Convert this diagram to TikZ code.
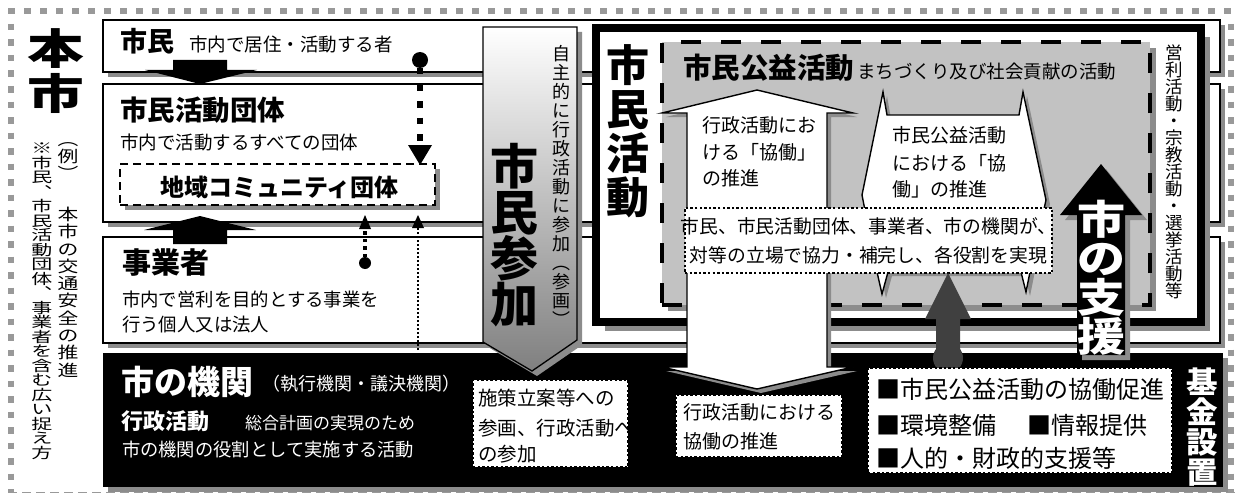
\documentclass[tikz,border=0pt]{standalone}
\usepackage{fontspec}
\setmainfont{Noto Sans CJK JP}[BoldFont={Noto Sans CJK JP Black}]
\usepackage{graphicx}
\definecolor{shd}{gray}{0.55}
\definecolor{boxgray}{gray}{0.76}
\definecolor{dotgray}{gray}{0.6}
\definecolor{darkarrow}{gray}{0.25}
\definecolor{arrbot}{gray}{0.5}
\newcommand\fsz[1]{\fontsize{#1}{#1}\selectfont}
\makeatletter
\newcommand\tate[4]{%
  \vbox{\fontsize{#1}{#2}\selectfont
    \baselineskip=#2pt\relax
    \lineskiplimit=-1000pt\relax
    \lineskip=0pt\relax
    \@tfor\tate@c:=#4\do{\hbox to #1pt{\hss\scalebox{#3}[1]{\tate@c}\hss}}}}
\makeatother
\tikzset{
  every node/.style={inner sep=0pt, outer sep=0pt},
  shadow/.style={preaction={fill=shd, transform canvas={xshift=#1, yshift=-#1}}},
  shadow/.default=5pt,
  layerbox/.style={anchor=north west, draw=black, fill=white, line width=1.8pt, shadow},
  dotbox/.style={anchor=north west, draw=black, fill=white, line width=2.4pt, dash pattern=on 2.4pt off 2.2pt},
  lbl/.style={anchor=base west},
}
\begin{document}
\begin{tikzpicture}[x=1pt,y=-1pt]
\useasboundingbox (0,0) rectangle (1237,495);
\fill[white] (0,0) rectangle (1237,495);
% outer border
\draw[dotgray, line width=6.5pt, dash pattern=on 6.5pt off 9.5pt] (8,11) -- (1236,11);
\draw[dotgray, line width=6.5pt, dash pattern=on 6.5pt off 9pt] (11,24) -- (11,492);
\draw[dotgray, line width=6.5pt, dash pattern=on 6.5pt off 9pt] (1231,24) -- (1231,492);
\draw[dotgray, line width=1.5pt, dash pattern=on 9pt off 5pt] (8,492.5) -- (1236,492.5);

% left column texts
\node[anchor=north, font=\bfseries] (tHonshi) at (56,29) {\tate{42}{45}{1.35}{本市}};
\node[anchor=north] (tNote) at (42,143) {\tate{14.5}{14.5}{1.45}{※市民︑市民活動団体︑事業者を含む広い捉え方}};
\node[anchor=north] (tEx1) at (68,143) {\tate{16}{17}{1.3}{︵例︶}};
\node[anchor=north] (tEx2) at (68,207) {\tate{16}{17.3}{1.3}{本市の交通安全の推進}};

% layer boxes
\node[layerbox, minimum width=1117pt, minimum height=52pt] (shimin) at (103,20) {};
\node[layerbox, minimum width=1117pt, minimum height=138pt] (dantai) at (103,84) {};
\node[layerbox, minimum width=1117pt, minimum height=106pt] (jigyo) at (103,237) {};
\node[anchor=north west, fill=black, shadow, minimum width=1120pt, minimum height=134pt] (kikan) at (103,353) {};

\node[lbl, font=\bfseries\fsz{27}] (tShimin) at (120,52) {市民};
\node[lbl, font=\fsz{18.5}] (tShiminD) at (189,52) {市内で居住・活動する者};
\node[lbl, font=\bfseries\fsz{27.5}] (tDantai) at (120,120) {市民活動団体};
\node[lbl, font=\fsz{18.5}] (tDantaiD) at (120,149.5) {市内で活動するすべての団体};
\node[lbl, font=\bfseries\fsz{29}] (tJigyo) at (122,273) {事業者};
\node[lbl, font=\fsz{18.4}] (tJigyoD1) at (122,306) {市内で営利を目的とする事業を};
\node[lbl, font=\fsz{18.4}] (tJigyoD2) at (122,331) {行う個人又は法人};

\node[lbl, font=\bfseries\fsz{33}, text=white] (tKikan) at (121,394) {市の機関};
\node[lbl, font=\fsz{18}, text=white] (tKikanD) at (262,390) {（執行機関・議決機関）};
\node[lbl, font=\bfseries\fsz{22}, text=white] (tGyosei) at (121,429) {行政活動};
\node[lbl, font=\fsz{17}, text=white] (tGyoseiD1) at (245,429.5) {総合計画の実現のため};
\node[lbl, font=\fsz{18.3}, text=white] (tGyoseiD2) at (122,456) {市の機関の役割として実施する活動};

% community box
\node[anchor=north west, draw=black, fill=white, line width=1.8pt, dash pattern=on 8pt off 5pt, shadow, minimum width=315pt, minimum height=41pt] (chiiki) at (120,164) {};
\node[lbl, font=\bfseries\fsz{24}] (tChiiki) at (160,196) {地域コミュニティ団体};

% block arrows between layers
\fill (173,60) -- (227,60) -- (227,70) -- (257,70) -- (200,84) -- (145,70) -- (173,70) -- cycle;
\fill (200,216) -- (256,230) -- (227,230) -- (227,244) -- (173,244) -- (173,230) -- (144,230) -- cycle;

% dotted arrows
\node[circle, fill=black, minimum size=16pt] (dotA) at (420,60) {};
\coordinate (baseA) at (420,145);
\coordinate (tipA) at (420,165);
\draw[line width=6.5pt, dash pattern=on 6.5pt off 10pt] (dotA.south) -- (baseA);
\fill (408,145) -- (432,145) -- (tipA) -- cycle;

\node[circle, fill=black, minimum size=12pt] (dotB) at (365,263) {};
\coordinate (baseB) at (365,229);
\coordinate (tipB) at (365,215);
\draw[line width=3.5pt, dash pattern=on 3.5pt off 4pt] (dotB.north) -- (baseB);
\fill (359,229) -- (371,229) -- (tipB) -- cycle;

\coordinate (startC) at (418,350);
\coordinate (baseC) at (418,228);
\coordinate (tipC) at (418,215);
\draw[line width=2pt, dash pattern=on 2pt off 2pt] (startC) -- (baseC);
\fill (412,228) -- (424,228) -- (tipC) -- cycle;

% citizen participation arrow
\path[shadow, top color=white, bottom color=arrbot, draw=black, line width=1.3pt] (483,27) -- (577,27) -- (577,340) -- (532,371) -- (483,342) -- cycle;
\node[anchor=north, font=\bfseries] (tSanka) at (514,143) {\tate{48}{46}{1.0}{市民参加}};
\node[anchor=north] (tJishu) at (561,45) {\tate{18}{19}{1.0}{自主的に行政活動に参加︵参画︶}};

% citizen activity box
\node[anchor=north west, draw=black, line width=8pt, fill=white, shadow=9pt, minimum width=605pt, minimum height=294pt] (katsudo) at (596,28) {};
\node[anchor=north, font=\bfseries] (tKatsudo) at (628,45) {\tate{43}{44}{1.0}{市民活動}};
\node[anchor=north] (tEiri) at (1174,45) {\tate{17.5}{17}{1.0}{営利活動・宗教活動・選挙活動等}};

% public interest box
\node[anchor=north west, fill=boxgray, draw=black, line width=4.5pt, dash pattern=on 20pt off 20pt, shadow=6pt, minimum width=488pt, minimum height=263pt] (koueki) at (662,42) {};
\node[lbl, font=\bfseries\fsz{28.5}] (tKoueki) at (683,78) {市民公益活動};
\node[lbl, font=\fsz{18.5}] (tKouekiD) at (857,78) {まちづくり及び社会貢献の活動};

% white double arrow
\path[shadow=4pt, fill=white, draw=black, line width=1.4pt] (757,90) -- (853,113) -- (827,113) -- (827,367) -- (853,367) -- (757,389) -- (662,367) -- (687,367) -- (687,113) -- (662,113) -- cycle;
\node[lbl, font=\fsz{19}] (tArrL1) at (702,132) {行政活動にお};
\node[lbl, font=\fsz{19}] (tArrL2) at (702,159) {ける「協働」};
\node[lbl, font=\fsz{19}] (tArrL3) at (702,185) {の推進};

% callout
\path[shadow=4pt, fill=white, draw=black, line width=1.4pt] (883,92) -- (887,115) -- (1019,115) -- (1023,92) -- (1046,200) -- (1030,272) -- (1026,292) -- (1021,272) -- (888,272) -- (882,294) -- (877,272) -- (862,195) -- cycle;
\node[lbl, font=\fsz{19}] (tCal1) at (892,142) {市民公益活動};
\node[lbl, font=\fsz{19}] (tCal2) at (892,170) {における「協};
\node[lbl, font=\fsz{19}] (tCal3) at (892,196) {働」の推進};

% dotted text box
\node[dotbox, minimum width=367pt, minimum height=65pt] (kyodo) at (685,208) {};
\node[anchor=base, font=\fsz{18.8}] (tKyo1) at (868.5,233) {市民、市民活動団体、事業者、市の機関が、};
\node[anchor=base, font=\fsz{18.8}] (tKyo2) at (868.5,262) {対等の立場で協力・補完し、各役割を実現};

% city support arrow
\path[shadow=5pt, fill=black] (1101,164) -- (1142,215) -- (1125,215) -- (1125,355) -- (1077,355) -- (1077,215) -- (1060,215) -- cycle;
\node[anchor=north, font=\bfseries, text=white] (tShien) at (1101,200) {\tate{40}{39}{1.2}{市の支援}};

% dark gray arrow
\node[circle, fill=darkarrow, minimum size=30pt] (dotD) at (948,358) {};
\path[fill=darkarrow] (948,273) -- (971,319) -- (960,319) -- (960,358) -- (936,358) -- (936,319) -- (925,319) -- cycle;

% boxes in the black area
\node[dotbox, minimum width=155pt, minimum height=87pt] (sesaku) at (473,380) {};
\node[lbl, font=\fsz{19.5}] (tSes1) at (478,405) {施策立案等への};
\node[lbl, font=\fsz{19.5}] (tSes2) at (478,435) {参画、行政活動へ};
\node[lbl, font=\fsz{19.5}] (tSes3) at (478,461) {の参加};

\node[dotbox, minimum width=166pt, minimum height=62pt] (gyokyo) at (676,395) {};
\node[lbl, font=\fsz{19}] (tGk1) at (683,419) {行政活動における};
\node[lbl, font=\fsz{19}] (tGk2) at (683,448) {協働の推進};

\node[dotbox, minimum width=304pt, minimum height=105pt] (shienbox) at (868,368) {};
\node[lbl, font=\fsz{24}] (tSb1) at (876,398) {■市民公益活動の協働促進};
\node[lbl, font=\fsz{24}] (tSb2) at (876,434) {■環境整備};
\node[lbl, font=\fsz{24}] (tSb3) at (1027,434) {■情報提供};
\node[lbl, font=\fsz{24}] (tSb4) at (876,467) {■人的・財政的支援等};

\node[anchor=north, font=\bfseries, text=white] (tKikin) at (1202,368) {\tate{30}{30}{1.05}{基金設置}};
\end{tikzpicture}
\end{document}
